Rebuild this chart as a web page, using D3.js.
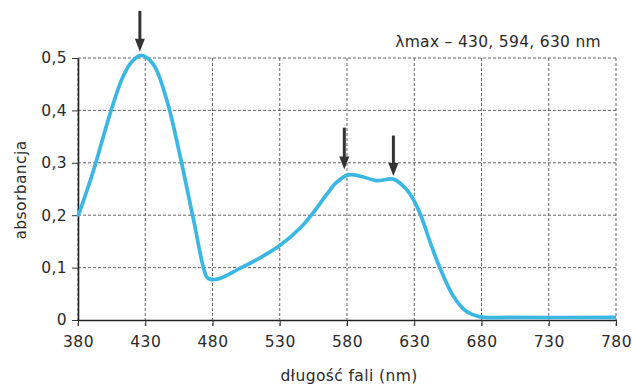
<!DOCTYPE html>
<html>
<head>
<meta charset="utf-8">
<style>
    body { margin: 0; background: #fff; }
    text { font-family: "DejaVu Sans", Lato, sans-serif; fill: #2a2a2a; }
    .axis .domain { stroke: #222; stroke-width: 1.6; }
    .axis line { stroke: #333; }
    .grid line { stroke: #555; stroke-width: 0.9; stroke-dasharray: 3, 2; }
</style>
<script src="https://cdnjs.cloudflare.com/ajax/libs/d3/7.8.5/d3.min.js"></script>
</head>
<body>
<svg width="632" height="386"></svg>
<script>
    // wavelength (nm) and absorbance
    var wavelength = [380, 391, 404, 413, 420, 427, 436, 446, 456, 466, 475.5, 478, 485, 500, 515, 530,
        545, 555, 565, 572, 581, 592, 602, 614, 620, 627, 634, 643, 649, 659, 669, 679, 700, 780];
    var absorbance = [0.198, 0.281, 0.395, 0.462, 0.493, 0.505, 0.488, 0.42, 0.312, 0.19, 0.083, 0.078, 0.079,
        0.098, 0.118, 0.142, 0.175, 0.205, 0.24, 0.262, 0.277, 0.273, 0.266, 0.269, 0.26, 0.24, 0.205,
        0.14, 0.1, 0.046, 0.016, 0.006, 0.005, 0.005];

    var xTicks = [380, 430, 480, 530, 580, 630, 680, 730, 780];
    var yTicks = [0, 0.1, 0.2, 0.3, 0.4, 0.5];

    // peak markers: x position, arrow top, arrow tip
    var arrowX = [426, 578, 614.5];
    var arrowTop = [0.59, 0.367, 0.352];
    var arrowTip = [0.512, 0.287, 0.275];

    var svg = d3.select("svg"),
        margin = {top: 58, right: 16, bottom: 66, left: 78},
        width = +svg.attr("width") - margin.left - margin.right,
        height = +svg.attr("height") - margin.top - margin.bottom,
        g = svg.append("g").attr("transform", "translate(" + margin.left + "," + margin.top + ")");

    var x = d3.scaleLinear().domain([380, 780]).range([0, width]);
    var y = d3.scaleLinear().domain([0, 0.5]).range([height, 0]);

    var fmt = function (d) { return d3.format(".1f")(d).replace(".", ","); };
    var yfmt = function (d) { return d === 0 ? "0" : fmt(d); };

    // dashed grid
    var grid = g.append("g").attr("class", "grid");
    grid.selectAll(".v").data(xTicks).enter().append("line")
        .attr("x1", function (d) { return x(d); })
        .attr("x2", function (d) { return x(d); })
        .attr("y1", 0).attr("y2", height + 6);
    grid.selectAll(".h").data(yTicks.slice(1)).enter().append("line")
        .attr("x1", 0).attr("x2", width)
        .attr("y1", function (d) { return y(d); })
        .attr("y2", function (d) { return y(d); });

    g.append("g")
        .attr("class", "axis")
        .attr("transform", "translate(0," + height + ")")
        .call(d3.axisBottom(x).tickValues(xTicks).tickSize(6).tickSizeOuter(0).tickPadding(10))
        .call(function (a) { a.selectAll("text").attr("font-size", 15.5).attr("letter-spacing", 0.4); });

    g.append("g")
        .attr("class", "axis")
        .call(d3.axisLeft(y).tickValues(yTicks).tickFormat(yfmt).tickSize(6).tickSizeOuter(0).tickPadding(5))
        .call(function (a) { a.selectAll("text").attr("font-size", 15.5).attr("letter-spacing", 0.4); });

    var line = d3.line()
        .x(function (d, i) { return x(wavelength[i]); })
        .y(function (d) { return y(d); })
        .curve(d3.curveCatmullRom.alpha(0.5));

    g.append("path")
        .datum(absorbance)
        .attr("fill", "none")
        .attr("stroke", "#3bb7e4")
        .attr("stroke-width", 3.7)
        .attr("stroke-linejoin", "round")
        .attr("d", line);

    // arrows
    var arrows = g.append("g").selectAll("g").data(arrowX).enter().append("g");
    arrows.append("line")
        .attr("x1", function (d) { return x(d); })
        .attr("x2", function (d) { return x(d); })
        .attr("y1", function (d, i) { return y(arrowTop[i]); })
        .attr("y2", function (d, i) { return y(arrowTip[i]) - 10; })
        .attr("stroke", "#333")
        .attr("stroke-width", 3);
    arrows.append("path")
        .attr("fill", "#333")
        .attr("d", function (d, i) {
            var px = x(d), py = y(arrowTip[i]);
            return "M" + (px - 5) + "," + (py - 13) + "L" + (px + 5) + "," + (py - 13) + "L" + px + "," + py + "Z";
        });

    svg.append("text")
        .attr("x", 601)
        .attr("y", 47)
        .attr("text-anchor", "end")
        .attr("font-size", 15.5)
        .attr("letter-spacing", 0.3)
        .text("λmax – 430, 594, 630 nm");

    svg.append("text")
        .attr("x", margin.left + width / 2 + 2)
        .attr("y", 381)
        .attr("text-anchor", "middle")
        .attr("font-size", 15.5)
        .attr("letter-spacing", 0.4)
        .text("długość fali (nm)");

    svg.append("text")
        .attr("transform", "translate(26," + (margin.top + height / 2 + 1) + ") rotate(-90)")
        .attr("text-anchor", "middle")
        .attr("font-size", 15.5)
        .attr("letter-spacing", 0.4)
        .text("absorbancja");
</script>
</body>
</html>
